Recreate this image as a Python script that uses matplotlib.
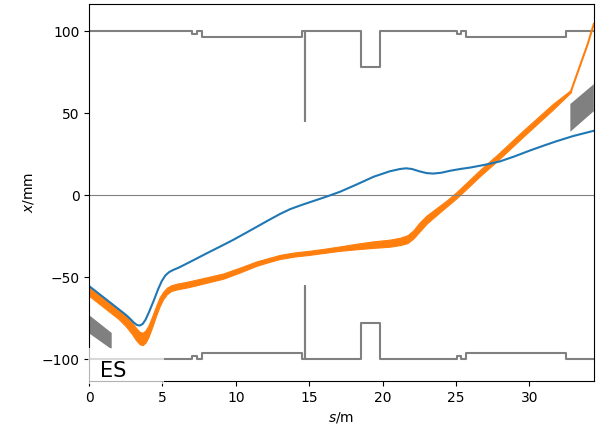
import numpy as np
import matplotlib
matplotlib.use("Agg")
import matplotlib.pyplot as plt
from matplotlib.patches import Rectangle, Polygon

# aperture outline (upper side), step corners in (s [m], x [mm])
ap_s = [0, 7.04, 7.04, 7.33, 7.33, 7.67, 7.67, 14.49, 14.49, 14.73, 14.73, 14.73,
        18.53, 18.53, 19.85, 19.85, 25.09, 25.09, 25.38, 25.38, 25.72, 25.72,
        32.5, 32.5, 34.4]
ap_top = [100, 100, 98, 98, 100, 100, 96.3, 96.3, 100, 100, 45, 100,
          100, 77.9, 77.9, 100, 100, 98, 98, 100, 100, 96.3,
          96.3, 100, 100]
ap_bot = [-100, -100, -98, -98, -100, -100, -96.3, -96.3, -100, -100, -55.5, -100,
          -100, -77.9, -77.9, -100, -100, -98, -98, -100, -100, -96.3,
          -96.3, -100, -100]

# reference orbit
blue_s = [0, 0.5, 1.0, 1.5, 2.0, 2.5, 2.8, 3.05, 3.25, 3.45, 3.65, 3.85, 4.1, 4.4,
          4.7, 4.95, 5.2, 5.45, 5.75, 6.1, 6.5, 7.2, 8.0, 9.0, 9.83, 10.74, 11.5,
          12.3, 13.0, 13.7, 14.5, 15.3, 16.2, 17.1, 18.2, 19.4, 20.5, 21.2, 21.6,
          22.0, 22.5, 23.0, 23.45, 24.0, 24.6, 25.3, 26.0, 27.0, 28.0, 29.0, 30.0,
          31.0, 31.85, 33.0, 34.4]
blue_x = [-55.5, -59, -62.5, -66, -69.5, -73, -75.5, -77.8, -79.2, -79.6, -78.6, -76, -71, -64.5,
          -57.5, -52.5, -49, -47, -45.6, -44.3, -42.5, -39.3, -35.6, -31.1, -27.3, -22.8, -19,
          -15, -11.6, -8.6, -6, -3.6, -0.9, 2, 6.3, 11.2, 14.5, 15.9, 16.3,
          15.9, 14.5, 13.4, 13.1, 13.6, 14.8, 15.9, 16.8, 18.5, 20.5, 23.6, 27,
          30.2, 32.8, 36, 39.2]

# extracted beam envelope
band_s = [0, 0.5, 1.0, 1.5, 2.0, 2.5, 2.9, 3.2, 3.45, 3.65, 3.85, 4.05, 4.3, 4.55,
          4.8, 5.05, 5.3, 5.6, 6.0, 6.6, 7.1, 8.0, 9.15, 10.2, 11.4, 12.2, 13.0,
          14.0, 15.0, 16.0, 17.1, 18.3, 19.4, 20.5, 21.2, 21.7, 22.1, 22.5, 23.0,
          23.45, 24.37, 25.04, 25.8, 26.6, 27.9, 29.6, 31.6, 32.85]
band_hi = [-56.5, -59.5, -62.5, -66, -69.5, -73.5, -77.5, -81, -83.5, -84, -82.5, -79.5, -74, -68,
           -62.5, -59, -56.5, -55, -54, -53, -52, -50.2, -47.8, -44.5, -40.5, -38.5, -36.5,
           -35, -34, -32.8, -31.3, -29.6, -28.2, -27.2, -26, -24.5, -21.5, -17, -12.5,
           -9.5, -3.3, 1.8, 8.2, 15, 25.3, 39.5, 55.5, 64.2]
band_lo = [-61.5, -65, -68.5, -72, -75.5, -80, -84.5, -88.5, -91, -91.5, -90, -86.5, -80.5, -74,
           -68, -63.5, -60.5, -58.5, -57.5, -56.5, -55.5, -53.5, -51, -47.5, -43.2, -41, -39,
           -37.5, -36.5, -35.3, -34, -33, -32.2, -31.5, -30.5, -29.3, -26.5, -22.5, -17.5,
           -14, -7, -2.0, 4.4, 11.2, 21.5, 35.7, 52, 62.8]

# single outgoing trajectory past the envelope
tail_s = [32.85, 34.0, 34.4]
tail_x = [63.5, 92.5, 104.4]

# septum blades
left_blade = [(0, -73.2), (1.54, -84.1), (1.54, -94.1), (0, -84.3)]
right_blade = [(32.8, 55.5), (34.4, 67.6), (34.4, 51.1), (32.8, 38.6)]

fig = plt.figure(figsize=(5.98, 4.26), dpi=100)
ax = fig.add_axes([0.149, 0.1056, 0.844, 0.885])

ax.axhline(0, color='gray', lw=0.8)
ax.plot(ap_s, ap_top, color='gray', lw=1.5)
ax.plot(ap_s, ap_bot, color='gray', lw=1.5)

ax.add_patch(Polygon(left_blade, closed=True, color='gray', lw=0))
ax.add_patch(Polygon(right_blade, closed=True, color='gray', lw=0))

ax.plot(blue_s, blue_x, color='#1f77b4', lw=1.5)
ax.fill_between(band_s, band_lo, band_hi, color='#ff7f0e', lw=0.8, edgecolor='#ff7f0e')
ax.plot(tail_s, tail_x, color='#ff7f0e', lw=1.5)

ax.set_xlim(0, 34.4)
ax.set_ylim(-113.4, 116.5)
ax.set_xticks([0, 5, 10, 15, 20, 25, 30])
ax.set_yticks([-100, -50, 0, 50, 100])
ax.set_xlabel('$s$/m')
ax.set_ylabel('$x$/mm')

# label box over the lower left corner
ax.add_patch(Rectangle((-0.05, -93), 5.15, -22, facecolor='white', alpha=0.7,
                       edgecolor='none', zorder=5, clip_on=False))
ax.text(0.75, -107.5, 'ES', fontsize=15, va='center', ha='left', zorder=6)

fig.savefig('out.png', dpi=100)
